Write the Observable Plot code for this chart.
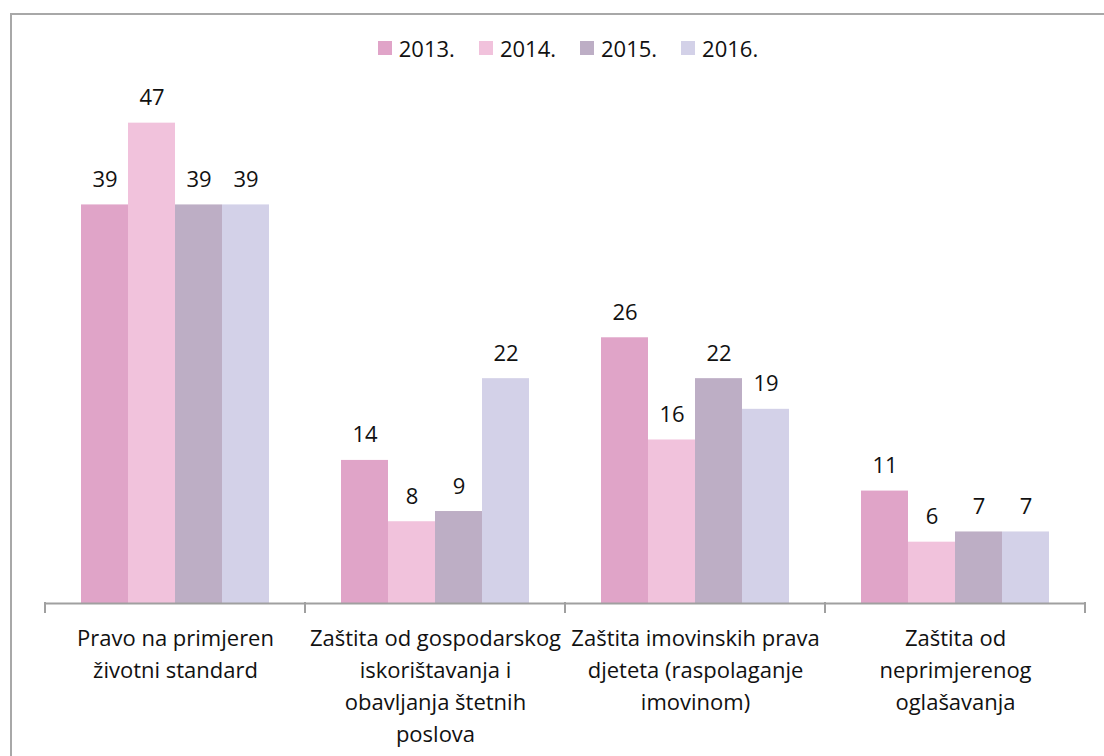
<!DOCTYPE html>
<html>
<head>
<meta charset="utf-8">
<script src="https://cdn.jsdelivr.net/npm/d3@7"></script>
<script src="https://cdn.jsdelivr.net/npm/@observablehq/plot@0.6"></script>
<style>
  html, body { margin: 0; padding: 0; background: #fff; }
  #wrap { position: relative; width: 1104px; height: 756px; overflow: hidden; font-family: "Open Sans", sans-serif; }
  #frame { position: absolute; left: 10px; top: 13px; width: 1200px; height: 900px; border-left: 2px solid #a8a8a8; border-top: 2px solid #a8a8a8; }
  #legend { position: absolute; top: 33px; left: 0; width: 1104px; display: flex; justify-content: center; gap: 24px; font-size: 22px; color: #111; padding-left: 32px; box-sizing: border-box; }
  #legend .item { display: flex; align-items: center; gap: 7px; }
  #legend .sw { width: 14px; height: 14px; display: inline-block; }
  #chart { position: absolute; left: 0; top: 0; }
</style>
</head>
<body>
<div id="wrap">
  <div id="frame"></div>
  <div id="chart"></div>
  <div id="legend"></div>
</div>
<script>
const categories = [
  "Pravo na primjeren\nživotni standard",
  "Zaštita od gospodarskog\niskorištavanja i\nobavljanja štetnih\nposlova",
  "Zaštita imovinskih prava\ndjeteta (raspolaganje\nimovinom)",
  "Zaštita od\nneprimjerenog\noglašavanja"
];
const years = ["2013.", "2014.", "2015.", "2016."];
const colors = ["#e0a4c8", "#f1c2dc", "#bdaec5", "#d3d1e8"];
const values2013 = [39, 14, 26, 11];
const values2014 = [47, 8, 16, 6];
const values2015 = [39, 9, 22, 7];
const values2016 = [39, 22, 19, 7];

const series = [values2013, values2014, values2015, values2016];
const data = [];
categories.forEach((c, i) => {
  years.forEach((y, j) => data.push({category: c, year: y, value: series[j][i]}));
});

const plot = Plot.plot({
  width: 1104,
  height: 756,
  marginLeft: 43,
  marginRight: 18,
  marginTop: 92,
  marginBottom: 153,
  style: {fontFamily: "'Open Sans', sans-serif", fontSize: "22px", color: "#111", background: "transparent"},
  fx: {domain: categories, padding: 0, label: null},
  x: {domain: years, paddingInner: 0, paddingOuter: 0.76, axis: null},
  y: {domain: [0, 50], axis: null},
  color: {domain: years, range: colors},
  marks: [
    Plot.barY(data, {fx: "category", x: "year", y: "value", fill: "year"}),
    Plot.text(data, {fx: "category", x: "year", y: "value", text: d => String(d.value), dy: -25, fontSize: 22, fill: "#111"}),
    Plot.ruleY([0], {stroke: "#a0a0a0", strokeWidth: 2}),
    Plot.axisFx({anchor: "bottom", tickSize: 0, tickPadding: 20, fontSize: 22, lineHeight: 1.45, label: null, fill: "#111"})
  ]
});
document.getElementById("chart").appendChild(plot);

// tick marks at group boundaries, positioned through the fx scale
const fx = plot.scale("fx");
const y = plot.scale("y");
const svg = d3.select(plot);
const edges = categories.map(c => fx.apply(c)).concat([fx.apply(categories[categories.length - 1]) + fx.bandwidth]);
const y0 = y.apply(0);
svg.append("g").selectAll("line").data(edges).join("line")
  .attr("x1", d => d).attr("x2", d => d)
  .attr("y1", y0 - 1).attr("y2", y0 + 10)
  .attr("stroke", "#a0a0a0").attr("stroke-width", 2);

const legend = d3.select("#legend");
years.forEach((yr, i) => {
  const it = legend.append("div").attr("class", "item");
  it.append("span").attr("class", "sw").style("background", colors[i]);
  it.append("span").text(yr);
});
</script>
</body>
</html>
